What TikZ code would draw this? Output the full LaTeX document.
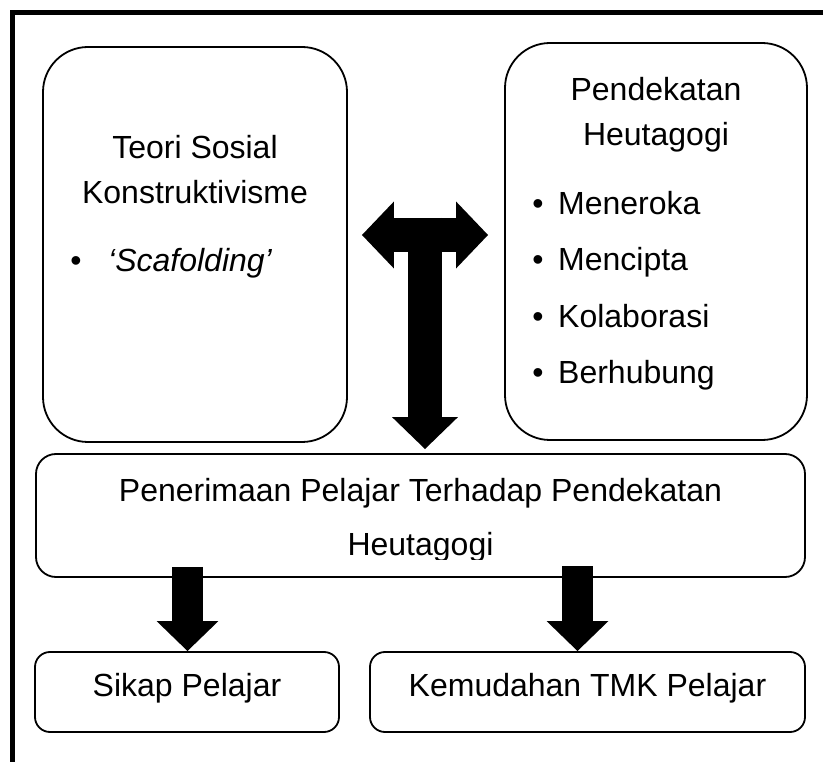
\documentclass[tikz,border=0pt]{standalone}
\usepackage{fontspec}
\setmainfont{Liberation Sans}
\usetikzlibrary{calc,positioning,arrows.meta}

\begin{document}
\begin{tikzpicture}[x=1pt, y=-1pt,
  box/.style={draw, line width=1.8pt, rounded corners=#1, inner sep=0pt},
  box/.default=15pt,
  txt/.style={anchor=base, inner sep=0pt, font=\fontsize{32}{38}\selectfont},
  fatarrow/.style={line width=#1, -{Triangle[width=2*#1-2pt, length=30pt]}},
  fatarrow/.default=31pt]
\useasboundingbox (0,0) rectangle (823,762);

% outer frame
\draw[line width=5pt] (12.5,762) -- (12.5,12.5) -- (823,12.5);

% upper boxes
\node[box=45pt, minimum width=304pt, minimum height=395pt] (teori) at (195,244.5) {};
\node[box=45pt, minimum width=302pt, minimum height=397pt] (heuta) at (656,241.5) {};

% middle and lower boxes
\node[box=20pt, minimum width=769pt, minimum height=123pt] (terima) at (420.5,515.5) {};
\node[box, minimum width=304pt, minimum height=80pt] (sikap) at (187,692) {};
\node[box, minimum width=435pt, minimum height=80pt] (tmk) at (587.5,692) {};

% texts of left box
\def\ls{56.5}
\node[txt] (teori1) at (195,158.5) {Teori Sosial};
\node[txt] (teori2) at ($(teori1)+(0,\ls)$) {Konstruktivisme};
\node[txt] (bul0) at (76,271.5) {\textbullet};
\node[txt, anchor=base west] (scaf) at (108,271.5) {\itshape ‘Scafolding’};

% texts of right box
\node[txt] (heuta1) at (656,100.5) {Pendekatan};
\node[txt] (heuta2) at ($(heuta1)+(0,\ls)$) {Heutagogi};
\foreach \t [count=\i] in {Meneroka, Mencipta, Kolaborasi, Berhubung} {
  \node[txt] (bul\i) at (538,{214.5+(\i-1)*\ls}) {\textbullet};
  \node[txt, anchor=base west] (item\i) at (558,{214.5+(\i-1)*\ls}) {\t};
}

% texts of lower boxes
\node[txt] (terima1) at (420.5,501) {Penerimaan Pelajar Terhadap Pendekatan};
\begin{scope}
\clip (0,0) rectangle (823,559);
\node[txt] (terima2) at (420.5,555.5) {Heutagogi};
\end{scope}
\node[txt] (sikap1) at (187,696.5) {Sikap Pelajar};
\node[txt] (tmk1) at (587.5,696.5) {Kemudahan TMK Pelajar};

% T arrow
\coordinate (tleft) at ($(teori.east)+(14,-9.5)$);
\coordinate (tright) at ($(heuta.west)+(-16,-6.5)$);
\coordinate (tstem) at (425,218);
\draw[line width=34pt, {Triangle[width=65pt, length=32pt]}-{Triangle[width=65pt, length=32pt]}] (tleft) -- (tright);
\draw[line width=34pt, -{Triangle[width=64pt, length=32pt]}] (tstem) -- ($(tstem |- terima.north)+(0,-4)$);

% lower arrows
\coordinate (sx) at ($(terima.south -| sikap.north)+(0.5,-11)$);
\coordinate (kx) at (577.5,566);
\draw[fatarrow] (sx) -- (sx |- sikap.north);
\draw[fatarrow] (kx) -- (kx |- tmk.north);
\end{tikzpicture}
\end{document}
